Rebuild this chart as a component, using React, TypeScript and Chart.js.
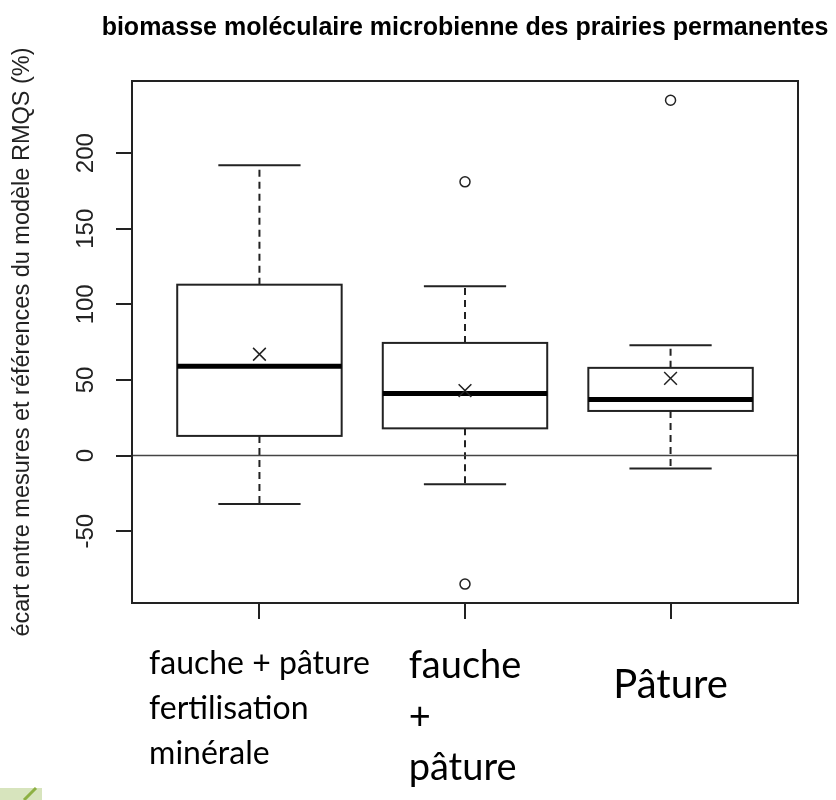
import React, { useEffect, useRef } from "react";
import { Chart, registerables } from "chart.js";

Chart.register(...registerables);

// ---- data ----
const categories: string[][] = [
  ["fauche + pâture", "fertilisation", "minérale"],
  ["fauche", "+", "pâture"],
  ["Pâture"],
];
const catPositions = [1, 2, 3];
const whiskerLow = [-32, -19, -8.5];
const q1 = [13, 18, 29.5];
const median = [59, 41, 37];
const q3 = [113, 74.5, 58];
const whiskerHigh = [192, 112, 73];
const means = [67, 43, 51];
const outliers: number[][] = [[], [181, -85], [235]];
const yTicks = [-50, 0, 50, 100, 150, 200];
const yMin = -97.5;
const yMax = 247.7;
const xMin = 0.38;
const xMax = 3.62;
const titleText = "biomasse moléculaire microbienne des prairies permanentes";
const yTitleText = "écart entre mesures et références du modèle RMQS (%)";

// ---- styles ----
const INK = "#222";
const ARIAL = "'Liberation Sans', Arial, sans-serif";
const CAL = "Lato, 'Open Sans', sans-serif";
const BOX_HALF = 0.4;
const CAP_HALF = 0.2;
const labelStyle = [
  { size: 32, lh: 45, base: 674 },
  { size: 38, lh: 51, base: 678 },
  { size: 40, lh: 50, base: 698 },
];

const boxPlugin = {
  id: "rboxes",
  beforeDatasetsDraw(chart: any) {
    const { ctx, scales, chartArea } = chart;
    const x = scales.x;
    const y = scales.y;
    ctx.save();
    for (let i = 0; i < catPositions.length; i++) {
      const c = catPositions[i];
      const cx = x.getPixelForValue(c);
      const l = x.getPixelForValue(c - BOX_HALF);
      const r = x.getPixelForValue(c + BOX_HALF);
      const cl = x.getPixelForValue(c - CAP_HALF);
      const cr = x.getPixelForValue(c + CAP_HALF);
      const yq1 = y.getPixelForValue(q1[i]);
      const yq3 = y.getPixelForValue(q3[i]);
      const ymed = y.getPixelForValue(median[i]);
      const ylo = y.getPixelForValue(whiskerLow[i]);
      const yhi = y.getPixelForValue(whiskerHigh[i]);
      ctx.strokeStyle = INK;
      ctx.lineWidth = 2;
      ctx.setLineDash([7, 5]);
      ctx.beginPath();
      ctx.moveTo(cx, yq3);
      ctx.lineTo(cx, yhi);
      ctx.moveTo(cx, yq1);
      ctx.lineTo(cx, ylo);
      ctx.stroke();
      ctx.setLineDash([]);
      ctx.beginPath();
      ctx.moveTo(cl, yhi);
      ctx.lineTo(cr, yhi);
      ctx.moveTo(cl, ylo);
      ctx.lineTo(cr, ylo);
      ctx.stroke();
      ctx.fillStyle = "#fff";
      ctx.fillRect(l, yq3, r - l, yq1 - yq3);
      ctx.strokeRect(l, yq3, r - l, yq1 - yq3);
      ctx.lineWidth = 5;
      ctx.strokeStyle = "#000";
      ctx.beginPath();
      ctx.moveTo(l, ymed);
      ctx.lineTo(r, ymed);
      ctx.stroke();
    }
    const y0 = y.getPixelForValue(0);
    ctx.strokeStyle = "#444";
    ctx.lineWidth = 1.5;
    ctx.beginPath();
    ctx.moveTo(chartArea.left, y0);
    ctx.lineTo(chartArea.right, y0);
    ctx.stroke();
    ctx.restore();
  },
  afterDraw(chart: any) {
    const { ctx, scales, chartArea } = chart;
    const x = scales.x;
    const y = scales.y;
    ctx.save();
    ctx.strokeStyle = INK;
    ctx.lineWidth = 2;
    ctx.strokeRect(chartArea.left, chartArea.top, chartArea.right - chartArea.left, chartArea.bottom - chartArea.top);
    ctx.fillStyle = "#000";
    ctx.font = `bold 25px ${ARIAL}`;
    ctx.textAlign = "center";
    ctx.textBaseline = "middle";
    ctx.fillText(titleText, (chartArea.left + chartArea.right) / 2, 28);
    ctx.fillStyle = INK;
    ctx.font = `24px ${ARIAL}`;
    for (const t of y.ticks) {
      const py = y.getPixelForValue(t.value);
      ctx.save();
      ctx.translate(y.right - 46, py);
      ctx.rotate(-Math.PI / 2);
      ctx.fillText(String(t.value), 0, 0);
      ctx.restore();
    }
    ctx.fillStyle = "#000";
    ctx.textAlign = "left";
    ctx.textBaseline = "alphabetic";
    for (let i = 0; i < categories.length; i++) {
      const st = labelStyle[i];
      ctx.font = `${st.size}px ${CAL}`;
      const cx = x.getPixelForValue(catPositions[i]);
      const left = cx - ctx.measureText(categories[i][0]).width / 2;
      categories[i].forEach((line, k) => {
        ctx.fillText(line, left, st.base + k * st.lh);
      });
    }
    ctx.fillStyle = "#d7e4bd";
    ctx.fillRect(0, 788, 42, 12);
    ctx.strokeStyle = "#8db043";
    ctx.lineWidth = 3;
    ctx.beginPath();
    ctx.moveTo(24, 800);
    ctx.lineTo(36, 788);
    ctx.stroke();
    ctx.restore();
  },
};

export default function App() {
  const ref = useRef<HTMLCanvasElement | null>(null);
  useEffect(() => {
    if (!ref.current) return;
    const outlierPts: { x: number; y: number }[] = [];
    outliers.forEach((arr, i) => arr.forEach((v) => outlierPts.push({ x: catPositions[i], y: v })));
    const meanPts = means.map((v, i) => ({ x: catPositions[i], y: v }));
    const chart = new Chart(ref.current, {
      type: "scatter",
      data: {
        datasets: [
          {
            label: "outliers",
            data: outlierPts,
            pointStyle: "circle",
            pointRadius: 5,
            borderColor: INK,
            backgroundColor: "rgba(255,255,255,0)",
            borderWidth: 1.5,
          },
          {
            label: "moyenne",
            data: meanPts,
            pointStyle: "crossRot",
            pointRadius: 9,
            borderColor: INK,
            borderWidth: 1.5,
          },
        ],
      },
      options: {
        animation: false,
        responsive: false,
        devicePixelRatio: 1,
        layout: { padding: { left: 0, top: 81, right: 38, bottom: 0 } },
        plugins: { legend: { display: false }, tooltip: { enabled: false }, title: { display: false } },
        scales: {
          x: {
            type: "linear",
            min: xMin,
            max: xMax,
            afterBuildTicks: (s: any) => {
              s.ticks = catPositions.map((v) => ({ value: v }));
            },
            afterFit: (s: any) => {
              s.height = 197;
            },
            ticks: { display: false },
            grid: { drawOnChartArea: false, drawTicks: true, tickLength: 16, color: INK, lineWidth: 2 },
            border: { display: true, color: INK, width: 2 },
          },
          y: {
            type: "linear",
            min: yMin,
            max: yMax,
            afterBuildTicks: (s: any) => {
              s.ticks = yTicks.map((v) => ({ value: v }));
            },
            afterFit: (s: any) => {
              s.width = 132;
            },
            ticks: { display: false },
            grid: { drawOnChartArea: false, drawTicks: true, tickLength: 16, color: INK, lineWidth: 2 },
            border: { display: true, color: INK, width: 2 },
            title: {
              display: true,
              text: yTitleText,
              color: INK,
              font: { family: ARIAL, size: 23.5 },
              padding: { top: 8, bottom: 0 },
            },
          },
        },
      },
      plugins: [boxPlugin],
    });
    return () => chart.destroy();
  }, []);
  return (
    <div style={{ position: "absolute", left: 0, top: 0, width: 836, height: 800, background: "#fff" }}>
      <canvas ref={ref} width={836} height={800} />
    </div>
  );
}
